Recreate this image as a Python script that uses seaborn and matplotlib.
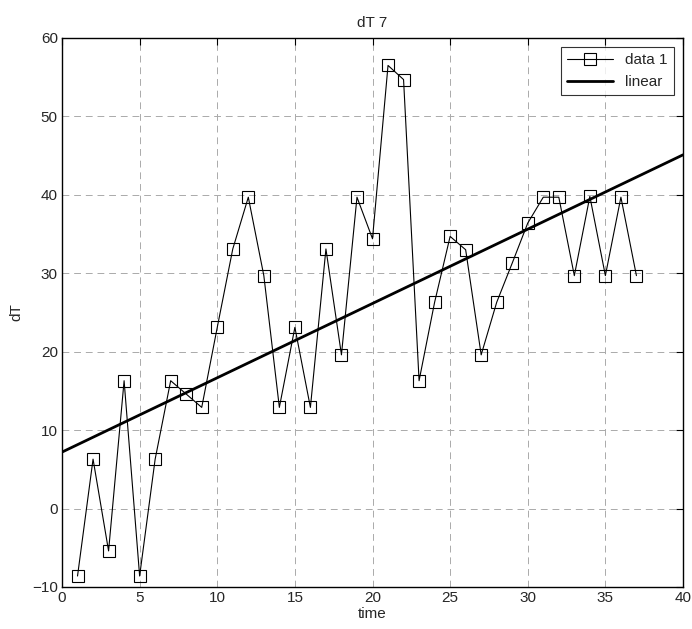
import pandas as pd
import numpy as np
import matplotlib.pyplot as plt
import seaborn as sns

# values
time = list(range(1, 38))
dT = [-8.6, 6.3, -5.4, 16.3, -8.6, 6.3, 16.3, 14.6, 12.9, 23.1,
      33.1, 39.7, 29.7, 12.9, 23.1, 12.9, 33.1, 19.6, 39.7, 34.4,
      56.5, 54.7, 16.3, 26.3, 34.7, 33.0, 19.6, 26.3, 31.3, 36.4,
      39.7, 39.7, 29.7, 39.8, 29.7, 39.7, 29.7]
linear_x = [0, 40]
linear_y = [7.2, 45.1]

df = pd.DataFrame({"time": time, "dT": dT})
lin = pd.DataFrame({"time": linear_x, "dT": linear_y})

sns.set_style("white")
plt.rcParams['font.family'] = ['Liberation Sans', 'DejaVu Sans']

fig = plt.figure(figsize=(6.92, 6.29), dpi=100)
ax = fig.add_axes([0.0896, 0.0668, 0.8974, 0.8728])

sns.lineplot(data=df, x="time", y="dT", ax=ax, color="black", linewidth=0.8,
             marker="s", markersize=8, markerfacecolor="none",
             markeredgecolor="black", markeredgewidth=0.8, label="data 1")
sns.lineplot(data=lin, x="time", y="dT", ax=ax, color="black", linewidth=2,
             label="linear")

ax.set_xlim(0, 40)
ax.set_ylim(-10, 60)
ax.set_xticks(range(0, 41, 5))
ax.set_yticks(range(-10, 61, 10))
ax.grid(True, color="#aaaaaa", linestyle=(0, (7, 5)), linewidth=0.7)
ax.tick_params(direction="in", length=5, labelsize=11, color="black", pad=3,
               top=True, right=True)
for s in ax.spines.values():
    s.set_color("black")
    s.set_linewidth(1.0)

ax.set_xlabel("time", fontsize=11, labelpad=1)
ax.set_ylabel("dT", fontsize=11, labelpad=6)
ax.set_title("dT 7", fontsize=11, pad=8)

leg = ax.legend(loc="upper right", fontsize=11, frameon=True, fancybox=False,
                edgecolor="black", borderaxespad=0.6, handlelength=3)
leg.get_frame().set_linewidth(0.8)

fig.savefig("out.png", dpi=100)
